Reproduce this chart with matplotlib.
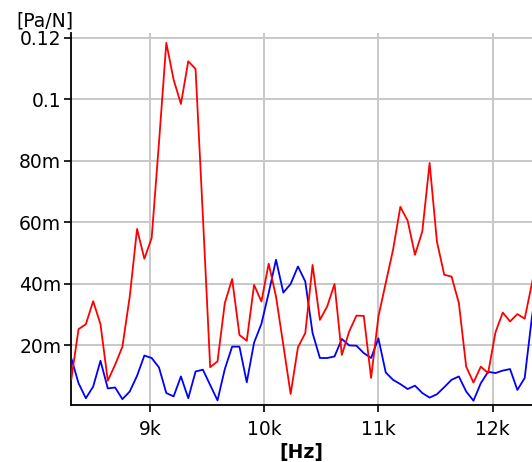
import numpy as np
import matplotlib
matplotlib.use("Agg")
import matplotlib.pyplot as plt

# frequency bins (Hz), 64 Hz resolution
f_start = 8248
f_step = 64
n_bins = 66

# transfer function magnitudes [Pa/N], values in milli-units
red_m = [50, 8.7, 25.2, 26.8, 34.3, 26.8, 8.4, 13.6, 19.5, 35.8, 57.8, 48.1, 54.9,
         86, 118.4, 106.4, 98.5, 112.4, 109.9, 62, 12.8, 14.7, 33.7, 41.5, 23.3,
         21.4, 39.6, 34.2, 46.5, 35.8, 20, 4.1, 19.3, 23.9, 46.1, 28.2, 32.6, 39.9,
         16.8, 24.4, 29.6, 29.5, 9.3, 29.3, 40.2, 51, 65, 60.5, 49.4, 57, 79.3,
         53.7, 42.9, 42.3, 33.7, 13, 7.8, 13, 10.9, 24.1, 30.6, 27.7, 30.1, 28.6,
         40.2, 52]
blue_m = [13, 15.8, 7.6, 2.7, 6.5, 14.9, 5.9, 6.2, 2.4, 4.9, 10, 16.6, 15.8, 12.7,
          4.4, 3.3, 9.8, 2.7, 11.4, 12, 7, 2, 12.2, 19.5, 19.5, 7.9, 20.8, 26.9,
          37, 47.8, 37.1, 39.9, 45.6, 40.7, 23.9, 15.8, 15.8, 16.3, 22, 19.9,
          19.8, 17.4, 15.8, 22.2, 11.1, 8.7, 7.3, 5.7, 6.8, 4.4, 2.9, 4, 6.3, 8.7,
          9.8, 4.9, 1.9, 7.6, 11.3, 10.9, 11.7, 12.2, 5.4, 9.3, 29.3, 45]

ytick_vals = [0.02, 0.04, 0.06, 0.08, 0.10, 0.12]
ytick_labels = ["20m", "40m", "60m", "80m", "0.1", "0.12"]
xtick_vals = [9000, 10000, 11000, 12000]
xtick_labels = ["9k", "10k", "11k", "12k"]

freq = f_start + f_step * np.arange(n_bins)
red = np.array(red_m) / 1000.0
blue = np.array(blue_m) / 1000.0

fig = plt.figure(figsize=(5.32, 4.62), dpi=100)
ax = fig.add_axes([71 / 532, 57 / 462, 1 - 71 / 532, (405 - 33) / 462])

ax.plot(freq, blue, color="#0000ff", lw=1.3, zorder=3)
ax.plot(freq, red, color="#ff0000", lw=1.3, zorder=3)

ax.set_xlim(8310, 12344)
ax.set_ylim(0.0005, 0.1216)

ax.set_yticks(ytick_vals)
ax.set_yticklabels(ytick_labels)
ax.set_xticks(xtick_vals)
ax.set_xticklabels(xtick_labels)

ax.grid(True, color="#c8c8c8", lw=1.4)
ax.set_axisbelow(True)
for side in ["top", "right"]:
    ax.spines[side].set_visible(False)
for side in ["left", "bottom"]:
    ax.spines[side].set_linewidth(1.3)
    ax.spines[side].set_color("black")

ax.tick_params(axis="both", direction="out", length=5, width=1.2,
               labelsize=13.5, colors="black")
ax.tick_params(axis="y", pad=2)
ax.tick_params(axis="x", pad=6)

ax.set_xlabel("[Hz]", fontsize=13.5, fontweight="bold", labelpad=3)
fig.text(16 / 532, 1 - 21 / 462, "[Pa/N]", fontsize=13.5, ha="left", va="center")

fig.savefig("out.png", dpi=100)
